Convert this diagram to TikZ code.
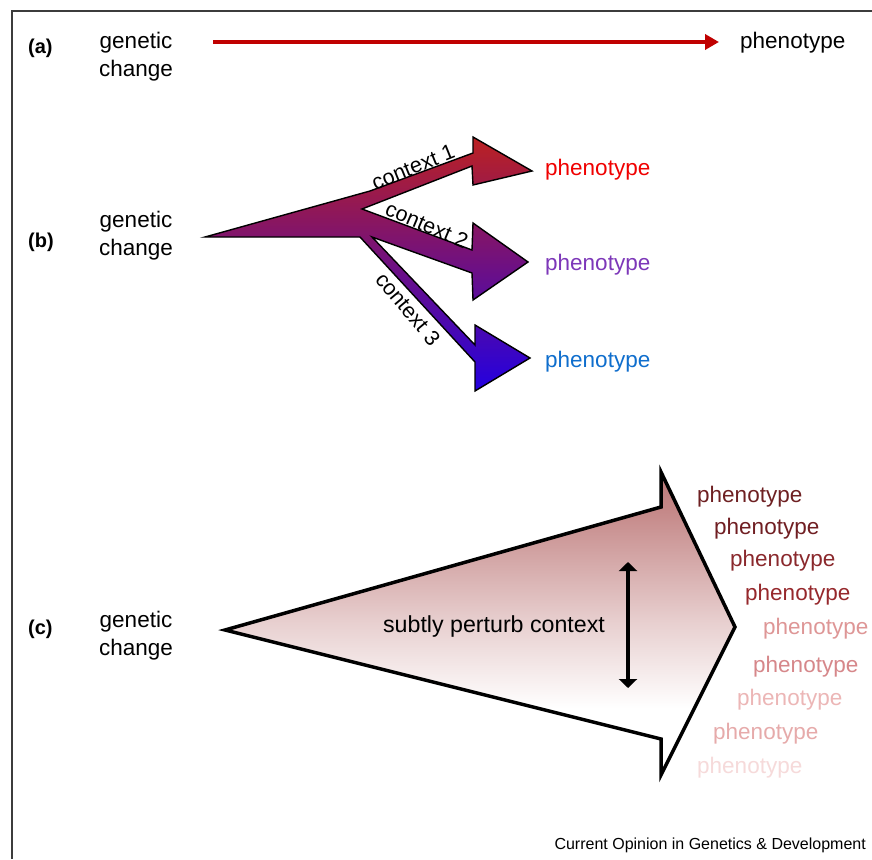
\documentclass[tikz,border=0pt]{standalone}
\usepackage{fontspec}
\setmainfont{Liberation Sans}
\usetikzlibrary{arrows.meta}
\definecolor{redA}{RGB}{192,0,0}
\definecolor{bTop}{RGB}{188,33,33}
\definecolor{bMid}{RGB}{95,12,90}
\definecolor{bBot}{RGB}{35,0,225}
\definecolor{phRed}{RGB}{240,0,0}
\definecolor{phPur}{RGB}{125,55,185}
\definecolor{phBlu}{RGB}{15,110,205}
\definecolor{cTop}{RGB}{188,120,120}
\definecolor{cTopJ}{RGB}{196,135,135}
\definecolor{cMid}{RGB}{232,208,208}
\definecolor{pc1}{RGB}{110,32,34}
\definecolor{pc2}{RGB}{112,30,34}
\definecolor{pc3}{RGB}{138,40,44}
\definecolor{pc4}{RGB}{150,40,44}
\definecolor{pc5}{RGB}{222,150,150}
\definecolor{pc6}{RGB}{214,135,138}
\definecolor{pc7}{RGB}{236,182,182}
\definecolor{pc8}{RGB}{230,170,170}
\definecolor{pc9}{RGB}{246,218,218}
\definecolor{frame}{RGB}{60,60,60}
\pgfdeclareverticalshading{cgrad}{100bp}{color(0bp)=(white); color(36bp)=(white); color(50bp)=(cMid); color(69bp)=(cTopJ); color(75bp)=(cTop); color(100bp)=(cTop)}
\tikzset{
  lbl/.style={font=\fontsize{22.5}{28}\selectfont, inner sep=0pt},
  gc/.style={lbl, align=center},
  panel/.style={font=\bfseries\fontsize{20}{24}\selectfont, inner sep=0pt, anchor=west},
  ph/.style={lbl, anchor=west},
  ctx/.style={font=\fontsize{21.5}{24}\selectfont, inner sep=0pt},
  redarrow/.style={draw=redA, line width=4pt, -{Triangle[length=14pt,width=15pt]}},
  bshape/.style={draw=black, line width=1.4pt, line join=miter, top color=bTop, middle color=bMid, bottom color=bBot},
  cshape/.style={draw=black, line width=3.5pt, line join=miter, shading=cgrad},
  perturb/.style={draw=black, line width=3.5pt, {Triangle[length=9pt,width=18pt]}-{Triangle[length=9pt,width=18pt]}},
  frameline/.style={draw=frame, line width=1.5pt},
  foot/.style={font=\fontsize{16}{19}\selectfont, inner sep=0pt, anchor=east}
}
\begin{document}
\begin{tikzpicture}[x=1pt,y=-1pt]
\useasboundingbox[fill=white] (0,0) rectangle (872,859);
% frame
\coordinate (fTL) at (12,11);
\coordinate (fTR) at (872,11);
\coordinate (fBL) at (12,859);
\draw[frameline] (fTR) -- (fTL) -- (fBL);

% panel (a)
\node[panel] (la) at (28,48) {(a)};
\node[gc] (ga) at (136,57) {genetic\\change};
\node[ph] (pa) at (740,43) {phenotype};
\coordinate (a1) at (213,42);
\coordinate (a2) at (719,42);
\draw[redarrow] (a1) -- (a2);

% panel (b)
\node[panel] (lb) at (28,242) {(b)};
\node[gc] (gb) at (136,236) {genetic\\change};
\draw[bshape] (205,237) -- (370,191) -- (473,153) -- (473,137) -- (532,171)
  -- (473,185) -- (472,166) -- (362,209) -- (472,250) -- (473,223)
  -- (528,262) -- (473,300) -- (472,273) -- (372,237) -- (475,345)
  -- (475,325) -- (530,358) -- (475,391) -- (475,362) -- (360,237) -- cycle;
\node[ctx, rotate=22] (c1) at (413,167) {context 1};
\node[ctx, rotate=-23] (c2) at (427,225) {context 2};
\node[ctx, rotate=-50] (c3) at (408,309) {context 3};
\node[ph, text=phRed] (pb1) at (545,170) {phenotype};
\node[ph, text=phPur] (pb2) at (545,265) {phenotype};
\node[ph, text=phBlu] (pb3) at (545,362) {phenotype};

% panel (c)
\node[panel] (lc) at (28,629) {(c)};
\node[gc] (gcc) at (136,636) {genetic\\change};
\draw[cshape] (225,630) -- (661,507) -- (661,472) -- (735,627) -- (661,775)
  -- (661,739) -- cycle;
\node[lbl, font=\fontsize{23.2}{28}\selectfont] (sp) at (494,626) {subtly perturb context};
\coordinate (d1) at (628,562);
\coordinate (d2) at (628,688);
\draw[perturb] (d1) -- (d2);
\node[ph, text=pc1] (q1) at (697,497) {phenotype};
\node[ph, text=pc2] (q2) at (714,529) {phenotype};
\node[ph, text=pc3] (q3) at (730,561) {phenotype};
\node[ph, text=pc4] (q4) at (745,595) {phenotype};
\node[ph, text=pc5] (q5) at (763,629) {phenotype};
\node[ph, text=pc6] (q6) at (753,667) {phenotype};
\node[ph, text=pc7] (q7) at (737,700) {phenotype};
\node[ph, text=pc8] (q8) at (713,734) {phenotype};
\node[ph, text=pc9] (q9) at (697,768) {phenotype};

% footer
\node[foot] (ft) at (866,845) {Current Opinion in Genetics \& Development};
\end{tikzpicture}
\end{document}
